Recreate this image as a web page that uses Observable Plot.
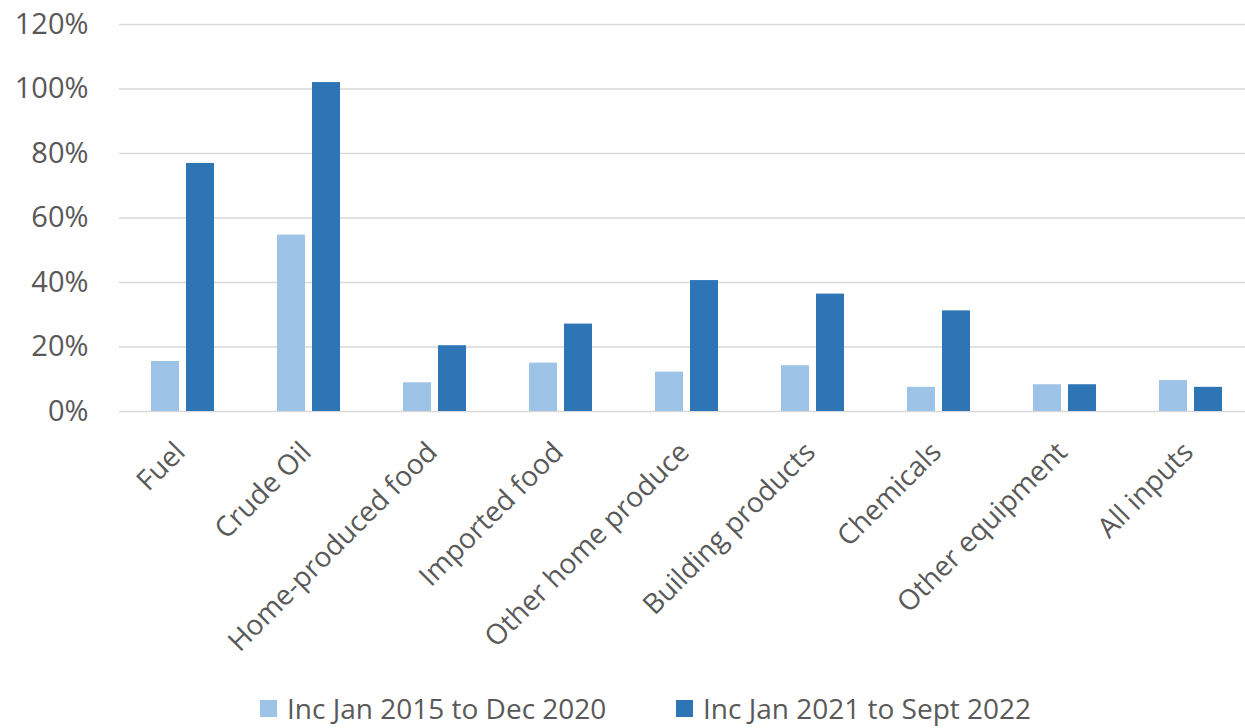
<!DOCTYPE html>
<html><head><meta charset="utf-8">
<script src="https://cdn.jsdelivr.net/npm/d3@7"></script>
<script src="https://cdn.jsdelivr.net/npm/@observablehq/plot@0.6"></script>
<style>
body{margin:0;background:#fff;font-family:"Open Sans",sans-serif;}
#wrap{position:relative;width:1245px;height:728px;overflow:hidden;}
.item{position:absolute;top:692px;display:flex;align-items:center;font-size:28px;line-height:1.2;color:#595959;white-space:nowrap;}
.sw{width:17px;height:17px;margin-right:10px;}
</style></head><body>
<div id="wrap"><div id="chart"></div><div id="legend"></div></div>
<script>
const categories = ["Fuel","Crude Oil","Home-produced food","Imported food","Other home produce","Building products","Chemicals","Other equipment","All inputs"];
const seriesNames = ["Inc Jan 2015 to Dec 2020","Inc Jan 2021 to Sept 2022"];
const inc2015to2020 = [0.155, 0.547, 0.089, 0.150, 0.122, 0.142, 0.075, 0.083, 0.096];
const inc2021to2022 = [0.769, 1.020, 0.204, 0.271, 0.406, 0.364, 0.312, 0.083, 0.075];
const colors = ["#9DC3E6","#2E75B6"];
const yTicks = [0, 0.2, 0.4, 0.6, 0.8, 1.0, 1.2];

const data = categories.flatMap((c, i) => [
  {category: c, series: seriesNames[0], value: inc2015to2020[i]},
  {category: c, series: seriesNames[1], value: inc2021to2022[i]}
]);

const hasAxisMarks = typeof Plot.axisFx === "function";

const marks = [
  Plot.ruleY(yTicks, {stroke: "#d9d9d9", strokeWidth: 1.3}),
  Plot.barY(data, {fx: "category", x: "series", y: "value", fill: "series"})
];
if (hasAxisMarks) {
  marks.push(Plot.axisFx({anchor: "bottom", tickRotate: -45, tickSize: 0, tickPadding: 36, label: null, fontSize: 28, dx: -2}));
  marks.push(Plot.axisY(yTicks, {anchor: "left", tickFormat: d3.format(".0%"), tickSize: 0, tickPadding: 31, label: null, fontSize: 29}));
}

const chart = Plot.plot({
  width: 1245, height: 670,
  marginLeft: 117, marginRight: 0, marginTop: 24, marginBottom: 259,
  style: {fontFamily: "'Open Sans', sans-serif", fontSize: "28px", color: "#595959", background: "white"},
  fx: hasAxisMarks
    ? {domain: categories, range: [117.3, 1254.7], padding: 0, axis: null}
    : {domain: categories, range: [117.3, 1254.7], padding: 0, label: null, tickRotate: -45, tickSize: 0, tickPadding: 36},
  x: {domain: seriesNames, paddingInner: 0.2, paddingOuter: 0.9, axis: null},
  y: hasAxisMarks
    ? {domain: [0, 1.2], axis: null}
    : {domain: [0, 1.2], ticks: yTicks, tickFormat: d3.format(".0%"), label: null, tickSize: 0, tickPadding: 31},
  color: {domain: seriesNames, range: colors},
  marks
});
document.getElementById("chart").appendChild(chart);

const legend = document.getElementById("legend");
const legendLeft = [260, 676];
seriesNames.forEach((s, i) => {
  const it = document.createElement("div");
  it.className = "item";
  it.style.left = legendLeft[i] + "px";
  const sw = document.createElement("div");
  sw.className = "sw";
  sw.style.background = colors[i];
  const t = document.createElement("span");
  t.textContent = s;
  it.appendChild(sw); it.appendChild(t);
  legend.appendChild(it);
});
</script>
</body></html>
